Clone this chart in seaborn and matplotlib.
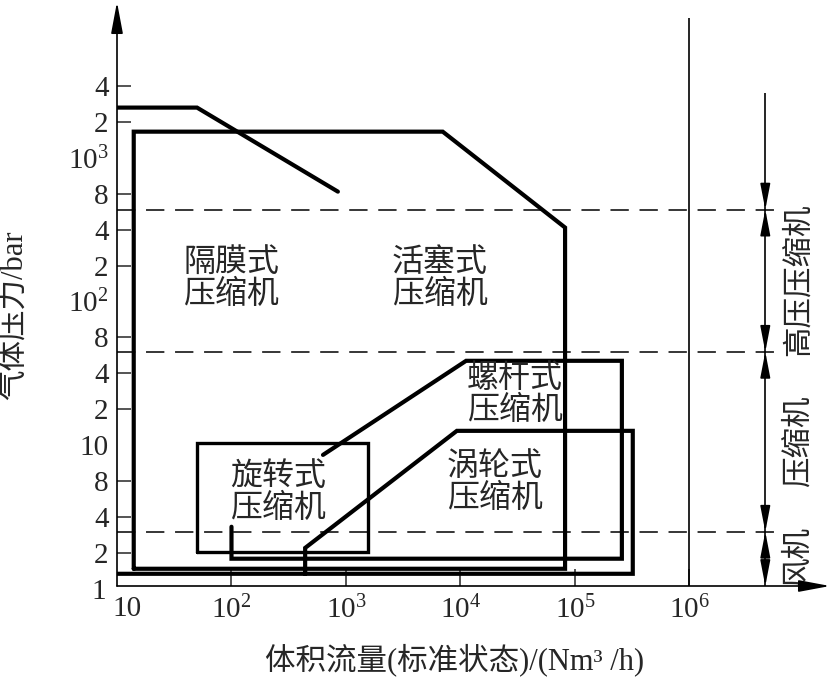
import matplotlib
matplotlib.use('Agg')
import matplotlib.pyplot as plt
import matplotlib.transforms as mtransforms
import seaborn as sns

# 工作范围图 (示意图), y 轴为等距刻度位置
sns.set_style("white")
plt.rcParams['font.family'] = ['Liberation Serif', 'Noto Sans CJK SC']
plt.rcParams['mathtext.fontset'] = 'custom'
plt.rcParams['mathtext.rm'] = 'Liberation Serif'

# x: 体积流量 (Nm3/h), y: 刻度位置 (0 -> 1 bar, 14 -> 4x10^3 bar)
piston_x = [14, 14, 7000, 82000, 82000, 14]
piston_y = [0.56, 12.73, 12.73, 10.06, 0.56, 0.56]
diaphragm_x = [10, 50, 850]
diaphragm_y = [13.4, 13.4, 11.06]
rotary_x = [50, 50, 1550, 1550, 50]
rotary_y = [1.03, 4.07, 4.07, 1.03, 1.03]
screw_x = [630, 11200, 2.57e5, 2.57e5, 100, 100]
screw_y = [3.73, 6.35, 6.35, 0.84, 0.84, 1.73]
turbo_x = [440, 440, 9300, 3.2e5, 3.2e5, 10]
turbo_y = [0.42, 1.14, 4.40, 4.40, 0.42, 0.42]

boundaries = [10.56, 6.60, 1.59]   # 风机 / 压缩机 / 高压压缩机 分界

ytick_pos = list(range(1, 15))
ytick_labels = ['2', '4', '8', '10', '2', '4', '8', r'$\mathregular{10^2}$',
                '2', '4', '8', r'$\mathregular{10^3}$', '2', '4']
xtick_pos = [10, 1e2, 1e3, 1e4, 1e5, 1e6]
xtick_labels = ['10', r'$\mathregular{10^2}$', r'$\mathregular{10^3}$',
                r'$\mathregular{10^4}$', r'$\mathregular{10^5}$', r'$\mathregular{10^6}$']

region_labels = ['隔膜式\n压缩机', '活塞式\n压缩机', '螺杆式\n压缩机', '旋转式\n压缩机', '涡轮式\n压缩机']
region_x = [100, 6600, 30000, 256, 20000]
region_y = [8.66, 8.66, 5.43, 2.70, 2.98]

range_labels = ['高压压缩机', '压缩机', '风机']
range_y = [8.6, 4.1, 0.9]

fig = plt.figure(figsize=(8.33, 6.84), dpi=100)
ax = fig.add_axes([117 / 833, 98 / 684, 713 / 833, 584 / 684])
ax.set_xscale('log')
x_lo, x_hi = 10, 1.69e7
y_lo, y_hi = 0.08, 16.34
ax.set_xlim(x_lo, x_hi)
ax.set_ylim(y_lo, y_hi)

for xs, ys, lw in [(piston_x, piston_y, 3), (diaphragm_x, diaphragm_y, 3),
                   (rotary_x, rotary_y, 2.4), (screw_x, screw_y, 3), (turbo_x, turbo_y, 3)]:
    sns.lineplot(x=xs, y=ys, sort=False, estimator=None, color='black',
                 linewidth=lw, ax=ax, solid_joinstyle='miter')

x_dash_end = 6.6e6
ax.hlines(boundaries, x_lo, x_dash_end, colors='black', linewidth=1.1,
          linestyles=(0, (12, 7)), clip_on=False)

# 10^6 竖线
ax.vlines(1e6, y_lo, 15.9, colors='black', linewidth=1.2)

# 右侧分区标注
x_r = 4.6e6
ax.vlines(x_r, y_lo, 13.8, colors='black', linewidth=1.2)
arrow = dict(arrowstyle='-|>,head_length=1.3,head_width=0.25', color='black',
             lw=1.2, mutation_scale=12, shrinkA=0, shrinkB=0)
for b in boundaries:
    ax.annotate('', xy=(x_r, b), xytext=(x_r, b + 0.6), arrowprops=arrow)
    ax.annotate('', xy=(x_r, b), xytext=(x_r, b - 0.6), arrowprops=arrow)
ax.annotate('', xy=(x_r, y_lo), xytext=(x_r, y_lo + 0.6), arrowprops=arrow,
            annotation_clip=False)
for lab, yy in zip(range_labels, range_y):
    ax.text(8.9e6, yy, lab, rotation=90, ha='center', va='center',
            fontsize=22, family='Noto Sans CJK SC', clip_on=False)

for lab, xx, yy in zip(region_labels, region_x, region_y):
    ax.text(xx, yy, lab, ha='center', va='center', fontsize=23,
            family='Noto Sans CJK SC', linespacing=1.0)

# 坐标轴
for s in ax.spines.values():
    s.set_visible(False)
ax_arrow = dict(arrowstyle='-|>,head_length=1.6,head_width=0.3', color='black',
                lw=1.2, mutation_scale=12, shrinkA=0, shrinkB=0)
ax.annotate('', xy=(x_lo, y_hi), xytext=(x_lo, y_lo), arrowprops=ax_arrow,
            annotation_clip=False)
ax.annotate('', xy=(x_hi, y_lo), xytext=(x_lo, y_lo), arrowprops=ax_arrow,
            annotation_clip=False)

ax.set_yticks(ytick_pos)
ax.set_yticklabels(ytick_labels)
ax.set_xticks(xtick_pos)
ax.set_xticklabels(xtick_labels)
ax.minorticks_off()
ax.tick_params(axis='y', direction='in', length=10, width=1.1, pad=6,
               labelsize=21, left=True)
ax.tick_params(axis='x', direction='in', length=12, width=1.1, pad=7,
               labelsize=21, bottom=True)
for i, t in enumerate(ax.yaxis.get_major_ticks()):
    if ytick_pos[i] in (4, 8, 12):
        t.tick1line.set_visible(False)
ax.xaxis.get_major_ticks()[0].tick1line.set_visible(False)

# "10" 稍向右移, 与左下角的 "1" 错开
first = ax.get_xticklabels()[0]
first.set_transform(first.get_transform()
                    + mtransforms.ScaledTranslation(7 / 72, 0, fig.dpi_scale_trans))
ax.text(-0.015, -0.1, '1', transform=ax.get_yaxis_transform(), ha='right',
        va='center', fontsize=21, clip_on=False)

fig.text(0.018, 1 - 315 / 684, '气体压力/bar', rotation=90, ha='center',
         va='center', fontsize=22)
fig.text(455 / 833, 1 - 660 / 684, '体积流量(标准状态)/(Nm³ /h)', ha='center',
         va='center', fontsize=22)

fig.savefig('out.png', dpi=100)
